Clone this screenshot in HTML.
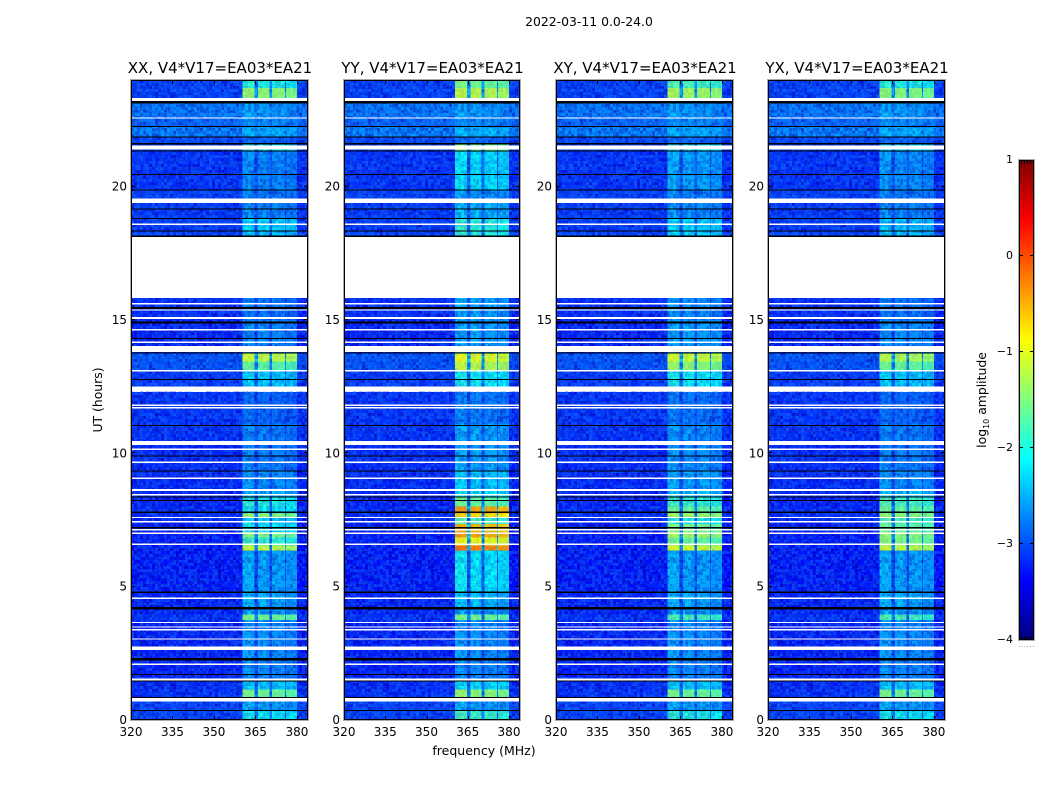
<!DOCTYPE html>
<html>
<head>
<meta charset="utf-8">
<title>2022-03-11 0.0-24.0</title>
<style>
html,body{margin:0;padding:0;background:#fff;}
svg{display:block;}
text{font-family:"DejaVu Sans","Liberation Sans",sans-serif;fill:#000;}
</style>
</head>
<body>
<svg id="fig" xmlns="http://www.w3.org/2000/svg" width="1050" height="800" viewBox="0 0 1050 800">
  <defs>
    <filter id="darkNoise" x="0" y="0" width="100%" height="100%" color-interpolation-filters="sRGB">
      <feTurbulence type="fractalNoise" baseFrequency="0.87" numOctaves="2" seed="4" result="n"/>
      <feFlood x="1" y="1" width="1" height="1" flood-color="#000"/>
      <feComposite width="3" height="3"/>
      <feTile result="grid"/>
      <feComposite in="n" in2="grid" operator="in"/>
      <feMorphology operator="dilate" radius="1"/>
      <feColorMatrix type="matrix" values="0 0 0 0 0  0 0 0 0 0  0 0 0 0 0.7  6 0 0 0 -2.75"/>
    </filter>
    <filter id="lightNoise" x="0" y="0" width="100%" height="100%" color-interpolation-filters="sRGB">
      <feTurbulence type="fractalNoise" baseFrequency="0.87" numOctaves="2" seed="11" result="n"/>
      <feFlood x="1" y="1" width="1" height="1" flood-color="#000"/>
      <feComposite width="3" height="3"/>
      <feTile result="grid"/>
      <feComposite in="n" in2="grid" operator="in"/>
      <feMorphology operator="dilate" radius="1"/>
      <feColorMatrix type="matrix" values="0 0 0 0 0.1  0 0 0 0 0.5  0 0 0 0 1  6 0 0 0 -2.75"/>
    </filter>
  </defs>
  <text x="589" y="26" font-size="12.4" text-anchor="middle">2022-03-11 0.0-24.0</text>
  <text transform="translate(102,400) rotate(-90)" font-size="12.4" text-anchor="middle">UT (hours)</text>
  <text x="484" y="755" font-size="12.5" text-anchor="middle">frequency (MHz)</text>
  <text transform="translate(986,400) rotate(-90)" font-size="12.4" text-anchor="middle">log<tspan font-size="8" dy="3">10</tspan><tspan dy="-3"> amplitude</tspan></text>
  <g id="panels"></g>
  <g id="cbar"></g>
</svg>
<script>
// ---- chart data ----
const panelNames = ["XX", "YY", "XY", "YX"];
const baseline = "V4*V17=EA03*EA21";
const xTickValues = [320, 335, 350, 365, 380];
const yTickValues = [0, 5, 10, 15, 20];
const cbarTickValues = [1, 0, -1, -2, -3, -4];
const cbarTickLabels = ["1", "0", "\u22121", "\u22122", "\u22123", "\u22124"];

// frequency columns (MHz) and what each one holds
const freqEdges = [320, 333, 346, 360.4, 364.7, 366, 370, 371, 375.7, 376, 380, 384];
const freqKinds = ["bg", "bg", "bg", "b0", "gap", "b1", "gap", "b2", "gap", "b3", "edge"];
const blockGain = { b0: 0, b1: -0.05, b2: -0.08, b3: -0.16 };

// time segments (hours UT), top of plot to bottom
const segTop = [24, 23.7, 23.2, 22.6, 22.25, 21.85, 21.6, 21.33, 20.46, 19.87, 19.39, 18.8, 18.35,
  15.83, 15, 13.75, 13.45, 13.1, 12.3, 11.1, 10.3, 9.35, 8.6, 8.35, 8, 7.75, 7.58, 7.35, 7.05, 6.85,
  6.55, 6.35, 4.8, 4.2, 3.95, 3.75, 2.3, 1.46, 1.15, 0.85, 0.36];
const segBottom = [23.7, 23.2, 22.6, 22.25, 21.85, 21.6, 21.33, 20.46, 19.87, 19.39, 18.8, 18.35, 18.12,
  15, 13.75, 13.45, 13.1, 12.5, 11.1, 10.3, 9.35, 8.6, 8.35, 8, 7.75, 7.58, 7.35, 7.05, 6.85, 6.55,
  6.35, 4.8, 4.2, 3.95, 3.75, 2.3, 1.46, 1.15, 0.85, 0.36, 0];
const bgLevel = [-3.05, -3.05, -2.68, -2.8, -2.62, -3.0, -3.1, -3.15, -3.15, -3.05, -3.1, -3.1, -3.05,
  -3.2, -3.25, -2.9, -2.95, -3.1, -3.15, -3.15, -3.2, -3.2, -3.25, -3.25, -3.2, -3.2, -3.25, -3.25, -3.3, -3.3,
  -3.3, -3.3, -3.25, -3.25, -3.15, -3.25, -3.25, -3.2, -3.15, -3.05, -3.05];
const rfiXX = [-1.9, -1.35, -2.45, -2.5, -2.35, -2.75, -2.0, -2.55, -2.55, -2.6, -2.55, -2.15, -2.25,
  -2.65, -2.55, -1.1, -1.6, -2.2, -2.75, -2.6, -2.6, -2.5, -2.3, -1.9, -2.0, -1.35, -2.15, -2.0, -1.45, -1.8,
  -1.1, -2.4, -2.35, -2.4, -1.5, -2.5, -2.55, -2.2, -1.5, -2.4, -2.0];
const rfiYY = [-1.5, -1.15, -2.45, -2.5, -2.3, -2.7, -1.45, -2.1, -2.1, -2.45, -2.3, -1.85, -1.85,
  -2.4, -2.4, -0.95, -1.15, -2.0, -2.6, -2.4, -2.4, -2.2, -2.05, -1.55, -0.4, -0.7, -1.7, -0.5, -0.4, -0.9,
  -0.2, -2.05, -2.25, -2.4, -1.5, -2.5, -2.55, -2.1, -1.35, -2.4, -1.75];
const rfiXY = [-1.7, -1.25, -2.45, -2.5, -2.35, -2.7, -2.0, -2.4, -2.4, -2.55, -2.5, -2.15, -2.15,
  -2.5, -2.4, -1.05, -1.35, -2.0, -2.65, -2.5, -2.5, -2.4, -2.2, -1.8, -1.55, -1.25, -1.9, -1.45, -1.25, -1.55,
  -1.0, -2.4, -2.35, -2.4, -1.7, -2.5, -2.55, -2.2, -1.5, -2.4, -1.9];
const rfiYX = [-1.9, -1.4, -2.45, -2.5, -2.35, -2.75, -2.1, -2.5, -2.5, -2.6, -2.55, -2.25, -2.25,
  -2.65, -2.5, -1.2, -1.55, -2.2, -2.75, -2.6, -2.6, -2.5, -2.2, -1.7, -1.55, -1.35, -1.7, -1.55, -1.35, -1.45,
  -1.1, -2.4, -2.35, -2.4, -1.7, -2.5, -2.55, -2.2, -1.5, -2.4, -2.0];
const rfiByPanel = [rfiXX, rfiYY, rfiXY, rfiYX];

// flagged (white) and zero-amplitude (black) time ranges, hours UT
const whiteStart = [23.21, 22.55, 21.4, 19.39, 18.57, 15.83, 15.58, 15.35, 15.03, 14.61, 14.14, 13.8, 13.07,
  12.31, 11.78, 11.68, 10.31, 10.13, 9.64, 9.04, 8.59, 8.42, 7.57, 7.41, 7.11, 6.98, 6.57, 4.54, 3.63, 3.46,
  3.36, 3.01, 2.63, 2.07, 1.48, 0.7];
const whiteEnd = [23.33, 22.6, 21.54, 19.56, 18.62, 18.12, 15.63, 15.4, 15.12, 14.66, 14.19, 14.03, 13.12,
  12.5, 11.83, 11.73, 10.46, 10.18, 9.69, 9.09, 8.66, 8.47, 7.62, 7.46, 7.16, 7.03, 6.62, 4.59, 3.68, 3.51,
  3.41, 3.06, 2.75, 2.12, 1.56, 0.83];
const blackStart = [23.11, 22.24, 21.84, 21.59, 21.31, 20.44, 19.85, 19.14, 18.79, 18.32, 18.12, 15.41, 14.87,
  14.29, 13.75, 12.75, 11.03, 9.88, 9.31, 8.35, 8.21, 7.77, 7.19, 4.77, 4.15, 2.24, 1.69, 1.44, 0.83, 0.33];
const blackEnd = [23.21, 22.28, 21.88, 21.63, 21.35, 20.48, 19.89, 19.18, 18.83, 18.36, 18.17, 15.48, 14.95,
  14.33, 13.79, 12.79, 11.07, 9.92, 9.35, 8.39, 8.25, 7.81, 7.23, 4.81, 4.23, 2.32, 1.73, 1.48, 0.87, 0.38];

// ---- axes ----
const SVGNS = "http://www.w3.org/2000/svg";
const panelLeft = [131, 344, 556, 768];
const panelWidth = [177, 176, 177, 177];
const plotTop = 80, plotBottom = 720;
const freqMin = 320, freqMax = 384, hourMin = 0, hourMax = 24;
const levelMin = -4, levelMax = 1;
const cbarLeft = 1019, cbarRight = 1034, cbarTop = 160, cbarBottom = 640;

function xScale(p, f) { return panelLeft[p] + (f - freqMin) / (freqMax - freqMin) * panelWidth[p]; }
function yScale(h) { return plotBottom - (h - hourMin) / (hourMax - hourMin) * (plotBottom - plotTop); }
function cbarScale(v) { return cbarBottom - (v - levelMin) / (levelMax - levelMin) * (cbarBottom - cbarTop); }

function jet(v) {
  const t = Math.max(0, Math.min(1, (v - levelMin) / (levelMax - levelMin)));
  const ramp = function (x) { return Math.max(0, Math.min(1, 1.5 - Math.abs(4 * x))); };
  const r = ramp(t - 0.75), g = ramp(t - 0.5), b = ramp(t - 0.25);
  return "rgb(" + Math.round(r * 255) + "," + Math.round(g * 255) + "," + Math.round(b * 255) + ")";
}
function make(tag, parent, attrs) {
  const el = document.createElementNS(SVGNS, tag);
  for (const k in attrs) el.setAttribute(k, attrs[k]);
  parent.appendChild(el);
  return el;
}
function columnLevel(kind, bg, rfi) {
  if (kind === "bg") return bg;
  if (kind === "edge") return bg - 0.05;
  if (kind === "gap") return bg + (rfi - bg) * 0.35;
  return rfi + blockGain[kind];
}

const panelsRoot = document.getElementById("panels");
panelNames.forEach(function (name, p) {
  const g = make("g", panelsRoot, {});
  
  

  const left = panelLeft[p], right = left + panelWidth[p];
  const rfi = rfiByPanel[p];
  const cells = make("g", g, { "shape-rendering": "crispEdges" });
  
  

  segTop.forEach(function (top, s) {
    freqKinds.forEach(function (kind, c) {
      const x0 = xScale(p, freqEdges[c]), x1 = xScale(p, freqEdges[c + 1]);
      const y0 = yScale(top), y1 = yScale(segBottom[s]);
      const cell = make("rect", cells, {
        x: x0, y: y0, width: x1 - x0, height: y1 - y0,
        fill: jet(columnLevel(kind, bgLevel[s], rfi[s]))
      });
      
      
    });
  });

  // speckle overlay; placed at the origin of a translated frame so the filter grid lines up
  const noiseAttrs = { x: 0, y: 0, width: panelWidth[p], height: plotBottom - plotTop, transform: "translate(" + left + "," + plotTop + ")" };
  const dark = make("rect", g, Object.assign({ filter: "url(#darkNoise)", opacity: 0.55 }, noiseAttrs));
  
  
  const light = make("rect", g, Object.assign({ filter: "url(#lightNoise)", opacity: 0.45 }, noiseAttrs));
  
  

  // bright RFI blocks are smoother than the noise floor: repaint them over the speckle
  const glaze = make("g", g, { "shape-rendering": "crispEdges" });
  
  
  segTop.forEach(function (top, s) {
    const strength = Math.max(0.12, Math.min(0.8, (rfi[s] + 2.8) / 1.6));
    freqKinds.forEach(function (kind, c) {
      if (kind.charAt(0) !== "b" || kind === "bg") return;
      const x0 = xScale(p, freqEdges[c]), x1 = xScale(p, freqEdges[c + 1]);
      const y0 = yScale(top), y1 = yScale(segBottom[s]);
      const cell = make("rect", glaze, {
        x: x0, y: y0, width: x1 - x0, height: y1 - y0,
        fill: jet(columnLevel(kind, bgLevel[s], rfi[s])), "fill-opacity": strength
      });
      
      
    });
  });

  whiteStart.forEach(function (h0, i) {
    const band = make("rect", g, {
      x: left, y: yScale(whiteEnd[i]), width: panelWidth[p], height: yScale(h0) - yScale(whiteEnd[i]),
      fill: "#fff", "shape-rendering": "crispEdges"
    });
    
    
  });
  blackStart.forEach(function (h0, i) {
    const band = make("rect", g, {
      x: left, y: yScale(blackEnd[i]), width: panelWidth[p], height: yScale(h0) - yScale(blackEnd[i]),
      fill: "#000", "shape-rendering": "crispEdges"
    });
    
    
  });

  xTickValues.forEach(function (v) {
    const x = Math.round(xScale(p, v)) + 0.5;
    make("path", g, { d: "M" + x + " " + plotBottom + "v-4M" + x + " " + plotTop + "v4", stroke: "#000", "stroke-width": 1, fill: "none" });
    const t = make("text", g, { x: xScale(p, v), y: 736, "font-size": 12, "text-anchor": "middle" });
    t.textContent = String(v);
    
    
  });
  yTickValues.forEach(function (v) {
    const y = Math.round(yScale(v)) - 0.5;
    make("path", g, { d: "M" + left + " " + y + "h4M" + right + " " + y + "h-4", stroke: "#000", "stroke-width": 1, fill: "none" });
    const t = make("text", g, { x: left - 4, y: yScale(v) + 4, "font-size": 12, "text-anchor": "end" });
    t.textContent = String(v);
    
    
  });

  const halo = make("rect", g, {
    x: left - 0.5, y: plotTop - 0.5, width: panelWidth[p] + 1, height: plotBottom - plotTop + 1,
    fill: "none", stroke: "#aaa", "stroke-width": 1, "shape-rendering": "crispEdges"
  });
  
  
  const frame = make("rect", g, {
    x: left + 0.5, y: plotTop + 0.5, width: panelWidth[p] - 1, height: plotBottom - plotTop - 1,
    fill: "none", stroke: "#000", "stroke-width": 1, "shape-rendering": "crispEdges"
  });
  
  

  const title = make("text", g, { x: (left + right) / 2 + 0.5, y: 73, "font-size": 15, "text-anchor": "middle" });
  title.textContent = name + ", " + baseline;
  
  
});

// ---- colorbar ----
const cbarRoot = document.getElementById("cbar");
for (let py = cbarTop; py < cbarBottom; py++) {
  const level = levelMax - (py + 0.5 - cbarTop) / (cbarBottom - cbarTop) * (levelMax - levelMin);
  make("rect", cbarRoot, { x: cbarLeft, y: py, width: cbarRight - cbarLeft, height: 1, fill: jet(level), "shape-rendering": "crispEdges" });
}
cbarTickValues.forEach(function (v, i) {
  const y = Math.round(cbarScale(v)) - 0.5;
  make("path", cbarRoot, { d: "M" + cbarLeft + " " + y + "h4M" + cbarRight + " " + y + "h-4", stroke: "#000", "stroke-width": 1, fill: "none" });
  const t = make("text", cbarRoot, { x: 1013, y: cbarScale(v) + 3, "font-size": 11, "text-anchor": "end" });
  t.textContent = cbarTickLabels[i];
  
  
});
[2.5, 5.5, 8.5, 11.5, 14.5].forEach(function (dx) {
  make("path", cbarRoot, { d: "M" + (cbarLeft + dx) + " " + cbarTop + "v4M" + (cbarLeft + dx) + " " + cbarBottom + "v-4", stroke: "#000", "stroke-width": 1, fill: "none" });
});
const cbarHalo = make("rect", cbarRoot, {
  x: cbarLeft - 0.5, y: cbarTop - 0.5, width: cbarRight - cbarLeft + 1, height: cbarBottom - cbarTop + 1,
  fill: "none", stroke: "#aaa", "stroke-width": 1, "shape-rendering": "crispEdges"
});


const cbarFrame = make("rect", cbarRoot, {
  x: cbarLeft + 0.5, y: cbarTop + 0.5, width: cbarRight - cbarLeft - 1, height: cbarBottom - cbarTop - 1,
  fill: "none", stroke: "#000", "stroke-width": 1, "shape-rendering": "crispEdges"
});


const dots = make("text", cbarRoot, { x: 1026.5, y: 647, "font-size": 7, "text-anchor": "middle", style: "fill:#777;letter-spacing:0.5px" });
dots.textContent = "......";


</script>
</body>
</html>
